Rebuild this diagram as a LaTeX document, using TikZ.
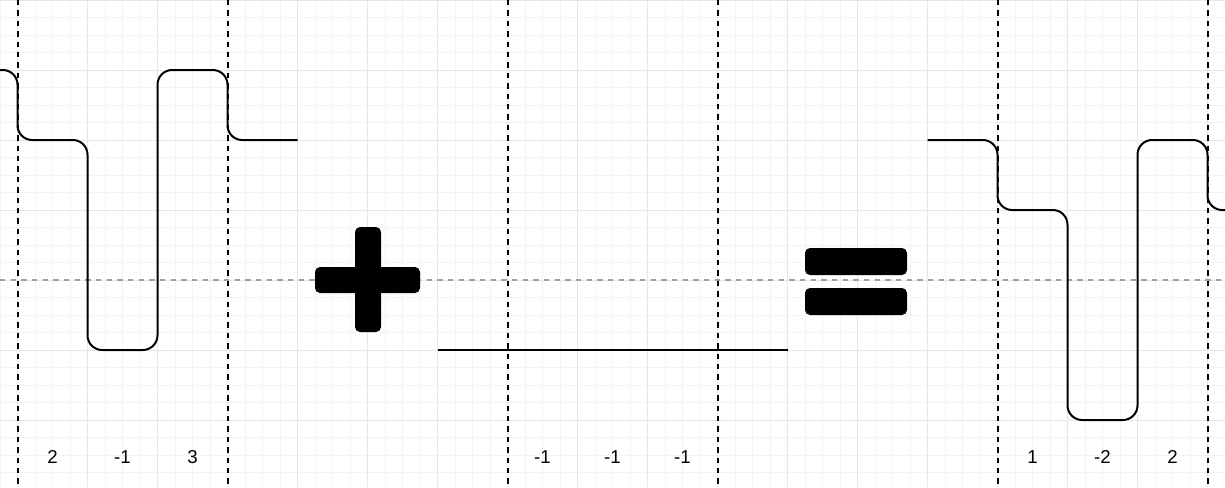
\documentclass[tikz,border=0pt]{standalone}
\usepackage{fontspec}
\setmainfont{Liberation Sans}
\definecolor{gridminor}{HTML}{F4F4F4}
\definecolor{gridmajor}{HTML}{E6E6E6}
\definecolor{axisgray}{HTML}{A0A0A0}
\begin{document}
\begin{tikzpicture}[x=0.75pt,y=-0.75pt,
  minorgrid/.style={draw=gridminor, line width=0.75pt},
  majorgrid/.style={draw=gridmajor, line width=0.75pt},
  sepline/.style={draw=black, line width=1.5pt, dash pattern=on 4pt off 3.8pt},
  axisline/.style={draw=axisgray, line width=1.1pt, dash pattern=on 4pt off 4pt},
  wave/.style={draw=black, line width=1.5pt, rounded corners=11pt},
  sign/.style={fill=black, rounded corners=3.75pt},
  lbl/.style={font=\fontsize{14}{16}\selectfont, inner sep=0pt, text=black}]
\useasboundingbox (0,0) rectangle (1225,487);
\clip (0,0) rectangle (1225,487);
\fill[white] (0,0) rectangle (1225,487);
% grid
\foreach \i in {0,...,70} { \draw[minorgrid] (\i*17.5,0) -- (\i*17.5,487); }
\foreach \j in {0,...,27} { \draw[minorgrid] (0,\j*17.5) -- (1225,\j*17.5); }
\foreach \i in {0,...,17} { \draw[majorgrid] (17.5+\i*70,0) -- (17.5+\i*70,487); }
\foreach \j in {0,...,6} { \draw[majorgrid] (0,\j*70) -- (1225,\j*70); }
% axis
\draw[axisline] (0,280) -- (1225,280);
% separators
\foreach \x in {17.5,227.5,507.5,717.5,997.5,1207.5} { \draw[sepline] (\x,0) -- (\x,487); }
% waveforms
\draw[wave] (-20,70) -- (17.5,70) -- (17.5,140) -- (87.5,140) -- (87.5,350) -- (157.5,350) -- (157.5,70) -- (227.5,70) -- (227.5,140) -- (297.5,140);
\draw[wave] (437.5,350) -- (787.5,350);
\draw[wave] (927.5,140) -- (997.5,140) -- (997.5,210) -- (1067.5,210) -- (1067.5,420) -- (1137.5,420) -- (1137.5,140) -- (1207.5,140) -- (1207.5,210) -- (1250,210);
% plus
\fill[sign] (355,227) rectangle (381,332);
\fill[sign] (315,267) rectangle (420,293);
% equals
\fill[sign] (805,248) rectangle (907,275);
\fill[sign] (805,288) rectangle (907,315);
% labels
\node[lbl] (a1) at (52.5,457) {2};
\node[lbl] (a2) at (122.5,457) {-1};
\node[lbl] (a3) at (192.5,457) {3};
\node[lbl] (b1) at (542.5,457) {-1};
\node[lbl] (b2) at (612.5,457) {-1};
\node[lbl] (b3) at (682.5,457) {-1};
\node[lbl] (c1) at (1032.5,457) {1};
\node[lbl] (c2) at (1102.5,457) {-2};
\node[lbl] (c3) at (1172.5,457) {2};
\end{tikzpicture}
\end{document}
